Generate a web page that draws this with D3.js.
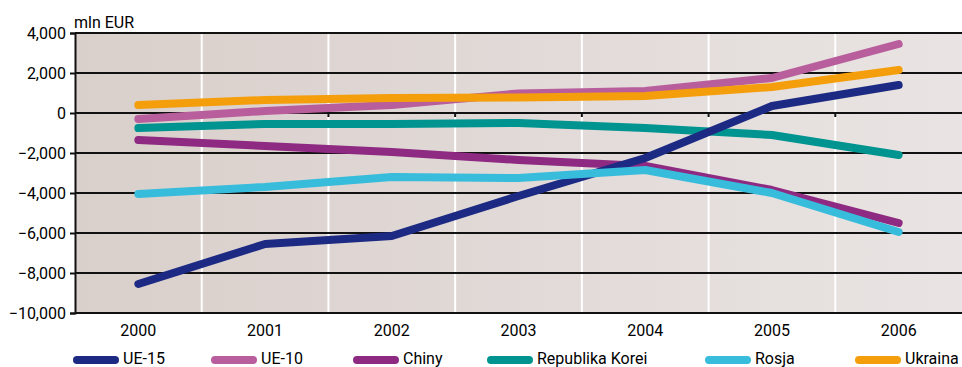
<!DOCTYPE html>
<html><head><meta charset="utf-8">
<script src="https://cdn.jsdelivr.net/npm/d3@7"></script>
<style>body{margin:0;background:#fff}svg{display:block}text{font-family:Roboto,"Noto Sans",sans-serif;fill:#000}</style>
</head><body><svg id="c" width="962" height="367"></svg>
<script>
const years = ["2000","2001","2002","2003","2004","2005","2006"];
const yTicks = [4000,2000,0,-2000,-4000,-6000,-8000,-10000];
const seriesNames = ["UE-15","UE-10","Chiny","Republika Korei","Rosja","Ukraina"];
const seriesColors = ["#1c2a84","#b95e9c","#8e2a82","#009490","#38bcdc","#f59e0b"];
const ue15 = [-8550,-6550,-6150,-4150,-2250,350,1400];
const ue10 = [-300,100,400,980,1100,1750,3450];
const chiny = [-1350,-1650,-1950,-2350,-2650,-3850,-5500];
const korea = [-750,-550,-550,-500,-750,-1100,-2100];
const rosja = [-4050,-3700,-3200,-3250,-2850,-4000,-5950];
const ukraina = [400,650,750,780,850,1300,2150];
const seriesValues = [ue15,ue10,chiny,korea,rosja,ukraina];
const drawOrder = [1,2,3,0,4,5];

const svg = d3.select("#c");
const L=75, R=962, T=33, B=313;
const x = d3.scaleBand().domain(years).range([L,R]).padding(0);
const y = d3.scaleLinear().domain([-10000,4000]).range([B,T]);

const defs = svg.append("defs");
const g = defs.append("linearGradient").attr("id","bg").attr("x1","0").attr("x2","1").attr("y1","0").attr("y2","0");
g.append("stop").attr("offset","0").attr("stop-color","#d9cfcb");
g.append("stop").attr("offset","1").attr("stop-color","#e9e4e3");
svg.append("rect").attr("x",L).attr("y",T).attr("width",R-L).attr("height",B-T).attr("fill","url(#bg)");

// white vertical separators
svg.append("g").selectAll("line").data(years.slice(1)).join("line")
  .attr("x1",d=>x(d)).attr("x2",d=>x(d)).attr("y1",T).attr("y2",B)
  .attr("stroke","#fff").attr("stroke-width",2);

// horizontal grid lines
svg.append("g").selectAll("line").data(yTicks).join("line")
  .attr("x1",L).attr("x2",R).attr("y1",d=>y(d)).attr("y2",d=>y(d))
  .attr("stroke","#111").attr("stroke-width",2);

// small ticks on zero line
svg.append("g").selectAll("line").data(years.slice(1)).join("line")
  .attr("x1",d=>x(d)).attr("x2",d=>x(d)).attr("y1",y(0)).attr("y2",y(0)+4)
  .attr("stroke","#111").attr("stroke-width",2);

// y axis
const yAxis = d3.axisLeft(y).tickValues(yTicks).tickSize(5).tickPadding(4)
  .tickFormat(d3.format(","));
const ya = svg.append("g").attr("transform",`translate(${L},0)`).call(yAxis);
ya.select(".domain").attr("stroke","#111").attr("stroke-width",2);
ya.selectAll(".tick line").attr("stroke","#111").attr("stroke-width",2);
ya.selectAll("text").style("font-size","16px").attr("fill","#000").attr("dy","0.35em");

// x axis labels
const xAxis = d3.axisBottom(x).tickSize(0).tickPadding(12);
const xa = svg.append("g").attr("transform",`translate(0,${B})`).call(xAxis);
xa.select(".domain").remove();
xa.selectAll("text").style("font-size","16px").attr("fill","#000");

svg.append("text").attr("x",L-1).attr("y",28).text("mln EUR").style("font-size","16px");

// lines
const line = d3.line().x((d,i)=>x(years[i])+x.bandwidth()/2).y(d=>y(d));
drawOrder.forEach(k=>{
  svg.append("path").datum(seriesValues[k]).attr("d",line)
    .attr("fill","none").attr("stroke",seriesColors[k]).attr("stroke-width",8)
    .attr("stroke-linecap","round").attr("stroke-linejoin","round");
});

// legend
const legX = [73,211,353,487,705,855];
const lg = svg.append("g");
seriesNames.forEach((n,i)=>{
  lg.append("line").attr("x1",legX[i]+4).attr("x2",legX[i]+42).attr("y1",360).attr("y2",360)
    .attr("stroke",seriesColors[i]).attr("stroke-width",8).attr("stroke-linecap","round");
  lg.append("text").attr("x",legX[i]+50).attr("y",364).text(n).style("font-size","16px");
});
</script></body></html>
